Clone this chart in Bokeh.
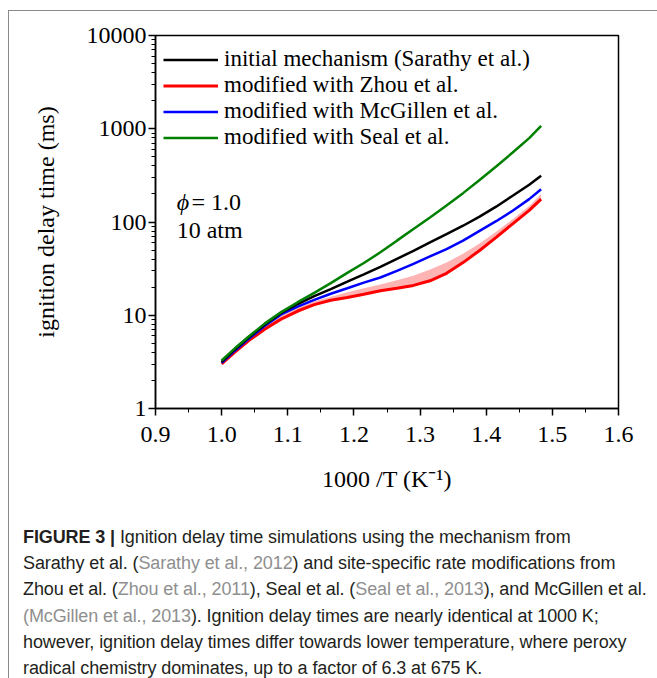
from bokeh.plotting import figure
from bokeh.layouts import column
from bokeh.models import (FixedTicker, Legend, LegendItem, Label, Div,
                          PrintfTickFormatter, Range1d)
from bokeh.embed import file_html
from bokeh.resources import INLINE

# ---------------- data ----------------
inv_T = [1.000, 1.020, 1.041, 1.065, 1.090, 1.115, 1.140, 1.165, 1.190, 1.215,
         1.240, 1.265, 1.290, 1.315, 1.340, 1.365, 1.390, 1.415, 1.440, 1.465, 1.483]

sarathy = [3.16, 4.3, 5.78, 7.9, 10.6, 13.2, 16.0, 19.1, 22.9, 27.5,
           33.1, 40.3, 49.0, 60.3, 74.1, 91.2, 114, 146, 191, 251, 313]
zhou = [3.01, 4.03, 5.36, 7.08, 9.12, 11.1, 13.0, 14.5, 15.5, 16.8,
        18.3, 19.5, 20.9, 23.4, 28.2, 36.7, 49.5, 68.4, 95.5, 133, 176]
zhou_band_low = [2.95, 3.94, 5.19, 6.76, 8.61, 10.6, 12.7, 14.5, 15.5, 16.8,
                 18.3, 19.5, 20.9, 23.4, 28.2, 36.7, 49.5, 68.4, 95.5, 133, 176]
zhou_band_high = [3.09, 4.17, 5.56, 7.50, 9.89, 12.0, 14.1, 15.8, 17.6, 19.5,
                  21.4, 23.7, 26.6, 30.9, 36.7, 45.7, 58.9, 78.5, 107, 148, 200]
mcgillen = [3.09, 4.17, 5.58, 7.67, 10.2, 12.4, 14.6, 17.0, 19.5, 22.4,
            25.4, 29.9, 35.5, 42.7, 51.3, 63.1, 80.4, 102, 132, 176, 224]
seal = [3.27, 4.42, 5.92, 8.13, 10.8, 13.8, 17.4, 22.1, 28.5, 36.3,
        47.3, 63.1, 84.1, 112, 150, 204, 282, 394, 556, 794, 1072]

series_labels = ["initial mechanism (Sarathy et al.)", "modified with Zhou et al.",
                 "modified with McGillen et al.", "modified with Seal et al."]

x_ticks = [0.9, 1.0, 1.1, 1.2, 1.3, 1.4, 1.5, 1.6]
x_minor = [0.95, 1.05, 1.15, 1.25, 1.35, 1.45, 1.55]
y_ticks = [1, 10, 100, 1000, 10000]
y_minor = [m * d for d in [1, 10, 100, 1000] for m in range(2, 10)]

x_label = "1000 /T (K\u207b\u00b9)"
y_label = "ignition delay time (ms)"

caption_lines = [
    [("FIGURE 3 |", "bold"), (" Ignition delay time simulations using the mechanism from", "dark")],
    [("Sarathy et al. (", "dark"), ("Sarathy et al., 2012", "gray"),
     (") and site-specific rate modifications from", "dark")],
    [("Zhou et al. (", "dark"), ("Zhou et al., 2011", "gray"), ("), Seal et al. (", "dark"),
     ("Seal et al., 2013", "gray"), ("), and McGillen et al.", "dark")],
    [("(McGillen et al., 2013", "gray"), ("). Ignition delay times are nearly identical at 1000 K;", "dark")],
    [("however, ignition delay times differ towards lower temperature, where peroxy", "dark")],
    [("radical chemistry dominates, up to a factor of 6.3 at 675 K.", "dark")],
]

# ---------------- layout constants (page pixels) ----------------
ORIGIN_X, ORIGIN_Y = 9, 11          # content origin after the grey frame lines
PAGE_W, PAGE_H = 657, 678
SPLIT_Y = 512                       # page y where the caption panel starts
FRAME_L, FRAME_R, FRAME_T, FRAME_B = 155, 618, 35, 408

W = PAGE_W - ORIGIN_X
H1 = SPLIT_Y - ORIGIN_Y
H2 = PAGE_H - SPLIT_Y

SERIF = "Liberation Serif"
p = figure(width=W, height=H1, x_range=Range1d(0.9, 1.6), y_range=Range1d(1, 10000),
           y_axis_type="log", output_backend="svg", toolbar_location=None,
           min_border_left=FRAME_L - ORIGIN_X, min_border_right=PAGE_W - FRAME_R,
           min_border_top=FRAME_T - ORIGIN_Y, min_border_bottom=SPLIT_Y - FRAME_B)
p.background_fill_color = "white"
p.border_fill_color = "white"
p.outline_line_color = "black"
p.outline_line_width = 1.5
p.xgrid.visible = False
p.ygrid.visible = False

for ax in (p.xaxis[0], p.yaxis[0]):
    ax.axis_line_width = 1.5
    ax.axis_line_color = "black"
    ax.major_tick_line_width = 1.5
    ax.minor_tick_line_width = 1
    ax.major_tick_in = 0
    ax.major_tick_out = 7
    ax.minor_tick_in = 0
    ax.minor_tick_out = 4
    ax.major_label_text_font = SERIF
    ax.major_label_text_font_size = "24px"
    ax.major_label_text_color = "black"
    ax.axis_label_text_font = SERIF
    ax.axis_label_text_font_size = "24px"
    ax.axis_label_text_font_style = "normal"
    ax.axis_label_text_color = "black"

p.xaxis.ticker = FixedTicker(ticks=x_ticks, minor_ticks=x_minor)
p.xaxis.formatter = PrintfTickFormatter(format="%.1f")
p.xaxis.major_label_standoff = 11
p.xaxis.axis_label = x_label
p.xaxis.axis_label_standoff = 21

p.yaxis.ticker = FixedTicker(ticks=y_ticks, minor_ticks=y_minor)
p.yaxis.formatter = PrintfTickFormatter(format="%d")
p.yaxis.major_label_standoff = 2
p.yaxis.axis_label = y_label
p.yaxis.axis_label_standoff = 25

# band and lines
p.varea(x=inv_T, y1=zhou_band_low, y2=zhou_band_high, fill_color="#ffb4b4", fill_alpha=1.0)
r_red = p.line(inv_T, zhou, line_color="#ff0000", line_width=3)
r_blue = p.line(inv_T, mcgillen, line_color="#0000ff", line_width=2.5)
r_black = p.line(inv_T, sarathy, line_color="black", line_width=2.5)
r_green = p.line(inv_T, seal, line_color="#008000", line_width=2.5)

legend = Legend(items=[LegendItem(label=series_labels[0], renderers=[r_black]),
                       LegendItem(label=series_labels[1], renderers=[r_red]),
                       LegendItem(label=series_labels[2], renderers=[r_blue]),
                       LegendItem(label=series_labels[3], renderers=[r_green])],
                location=(8, 258))
legend.background_fill_alpha = 0
legend.border_line_alpha = 0
legend.padding = 0
legend.margin = 0
legend.spacing = 0
legend.label_height = 25
legend.glyph_height = 25
legend.glyph_width = 55
legend.label_standoff = 6
legend.label_text_font = SERIF
legend.label_text_font_size = "23px"
legend.label_text_baseline = "middle"
legend.label_text_color = "black"
p.add_layout(legend)

# annotations
p.add_layout(Label(x=0.932, y=162, text="\u03d5", text_font=SERIF, text_font_size="24px",
                   text_font_style="italic", text_baseline="middle", text_color="black"))
p.add_layout(Label(x=0.9544, y=162, text="= 1.0", text_font=SERIF, text_font_size="24px",
                   text_baseline="middle", text_color="black"))
p.add_layout(Label(x=0.932, y=83, text="10 atm", text_font=SERIF, text_font_size="24px",
                   text_baseline="middle", text_color="black"))

# ---------------- caption (HTML text) ----------------
CAP_COLORS = {"dark": "#231f20", "gray": "#8f8f8f", "bold": "#231f20"}
html_lines = []
for segs in caption_lines:
    parts = []
    for text, kind in segs:
        weight = "bold" if kind == "bold" else "normal"
        parts.append(f'<span style="color:{CAP_COLORS[kind]};font-weight:{weight}">{text}</span>')
    html_lines.append("".join(parts))
caption_html = ('<div style="font-family:\'Liberation Sans\';font-size:18px;line-height:26.2px;'
                'letter-spacing:-0.1px;white-space:pre;padding-left:14px;padding-top:12px;margin:0">'
                + "<br>".join(html_lines) + "</div>")
cap = Div(text=caption_html, width=W, height=H2, styles={"margin": "0", "padding": "0"})

layout = column(p, cap, spacing=0,
                styles={"margin-left": f"{ORIGIN_X - 1}px", "margin-top": f"{ORIGIN_Y - 1}px",
                        "border-left": "1px solid #8a8a8a", "border-top": "1px solid #8a8a8a"})

open("out.html", "w").write(file_html(layout, INLINE))
